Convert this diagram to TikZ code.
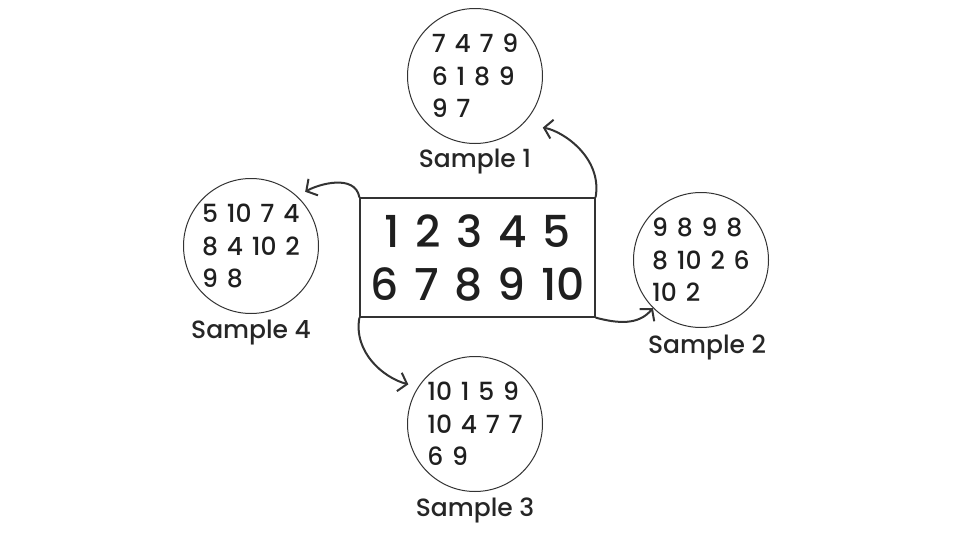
\documentclass[tikz,border=0pt]{standalone}
\usepackage{fontspec}
\setmainfont{Poppins Medium}
\newfontfamily\SpacedDigits{Poppins Medium}[WordSpace=1.35]
\usetikzlibrary{positioning,arrows.meta}
\tikzset{
  NumberBox/.style={draw=black!80,line width=1.2pt,minimum width=235pt,minimum height=119pt,
    align=center,text=black!88,font=\SpacedDigits\fontsize{44}{53}\selectfont},
  SampleCircle/.style={circle,draw=black!80,line width=1pt,minimum size=135pt,inner sep=0pt,
    align=left,text=black!88,font=\SpacedDigits\fontsize{25}{32.5}\selectfont},
  SampleLabel/.style={text=black!85,font=\fontsize{25}{30}\selectfont},
  DrawArrow/.style={-{Straight Barb[length=8pt,width=19pt,line width=2pt]},line width=2pt,
    draw=black!80,shorten >=#1},
  DrawArrow/.default={0pt}
}
\begin{document}
\begin{tikzpicture}[x=1pt,y=-1pt,on grid]
        \useasboundingbox (0,0) rectangle (954,533);
        % Population
        \node[NumberBox] (box) at (477.5,257.5) {1 2 3 4 5\\6 7 8 9 10};
        %-----------------------------------------------
        % Samples
        \node[SampleCircle, above=181.5pt of box, xshift=-2.5pt] (s1) {7 4 7 9\\6 1 8 9\\9 7};
        \node[SampleCircle, right=223.5pt of box, yshift=-2.5pt] (s2) {9 8 9 8\\8 10 2 6\\10 2};
        \node[SampleCircle, below=166.5pt of box, xshift=-2.5pt] (s3) {10 1 5 9\\10 4 7 7\\6 9};
        \node[SampleCircle, left=226.5pt of box, yshift=11.5pt] (s4) {5 10 7 4\\8 4 10 2\\9 8};
        %-----------------------------------------------
        % Text
        \node[SampleLabel] (l1) at ([yshift=-18pt]s1.south) {Sample 1};
        \node[SampleLabel] (l2) at ([xshift=6pt,yshift=-19pt]s2.south) {Sample 2};
        \node[SampleLabel] (l3) at ([yshift=-18pt]s3.south) {Sample 3};
        \node[SampleLabel] (l4) at ([yshift=-19pt]s4.south) {Sample 4};
        %-----------------------------------------------
        % Arrows
        \draw[DrawArrow=20pt] (box.north east) to[out=80,in=-10] (s1.-45);
        \draw[DrawArrow] (box.south east) to[out=-15,in=-130] (s2.225);
        \draw[DrawArrow=10pt] (box.south west) to[out=-100,in=165] (s3.147);
        \draw[DrawArrow=9pt] (box.north west) to[out=100,in=30] (s4.47);
\end{tikzpicture}
\end{document}
